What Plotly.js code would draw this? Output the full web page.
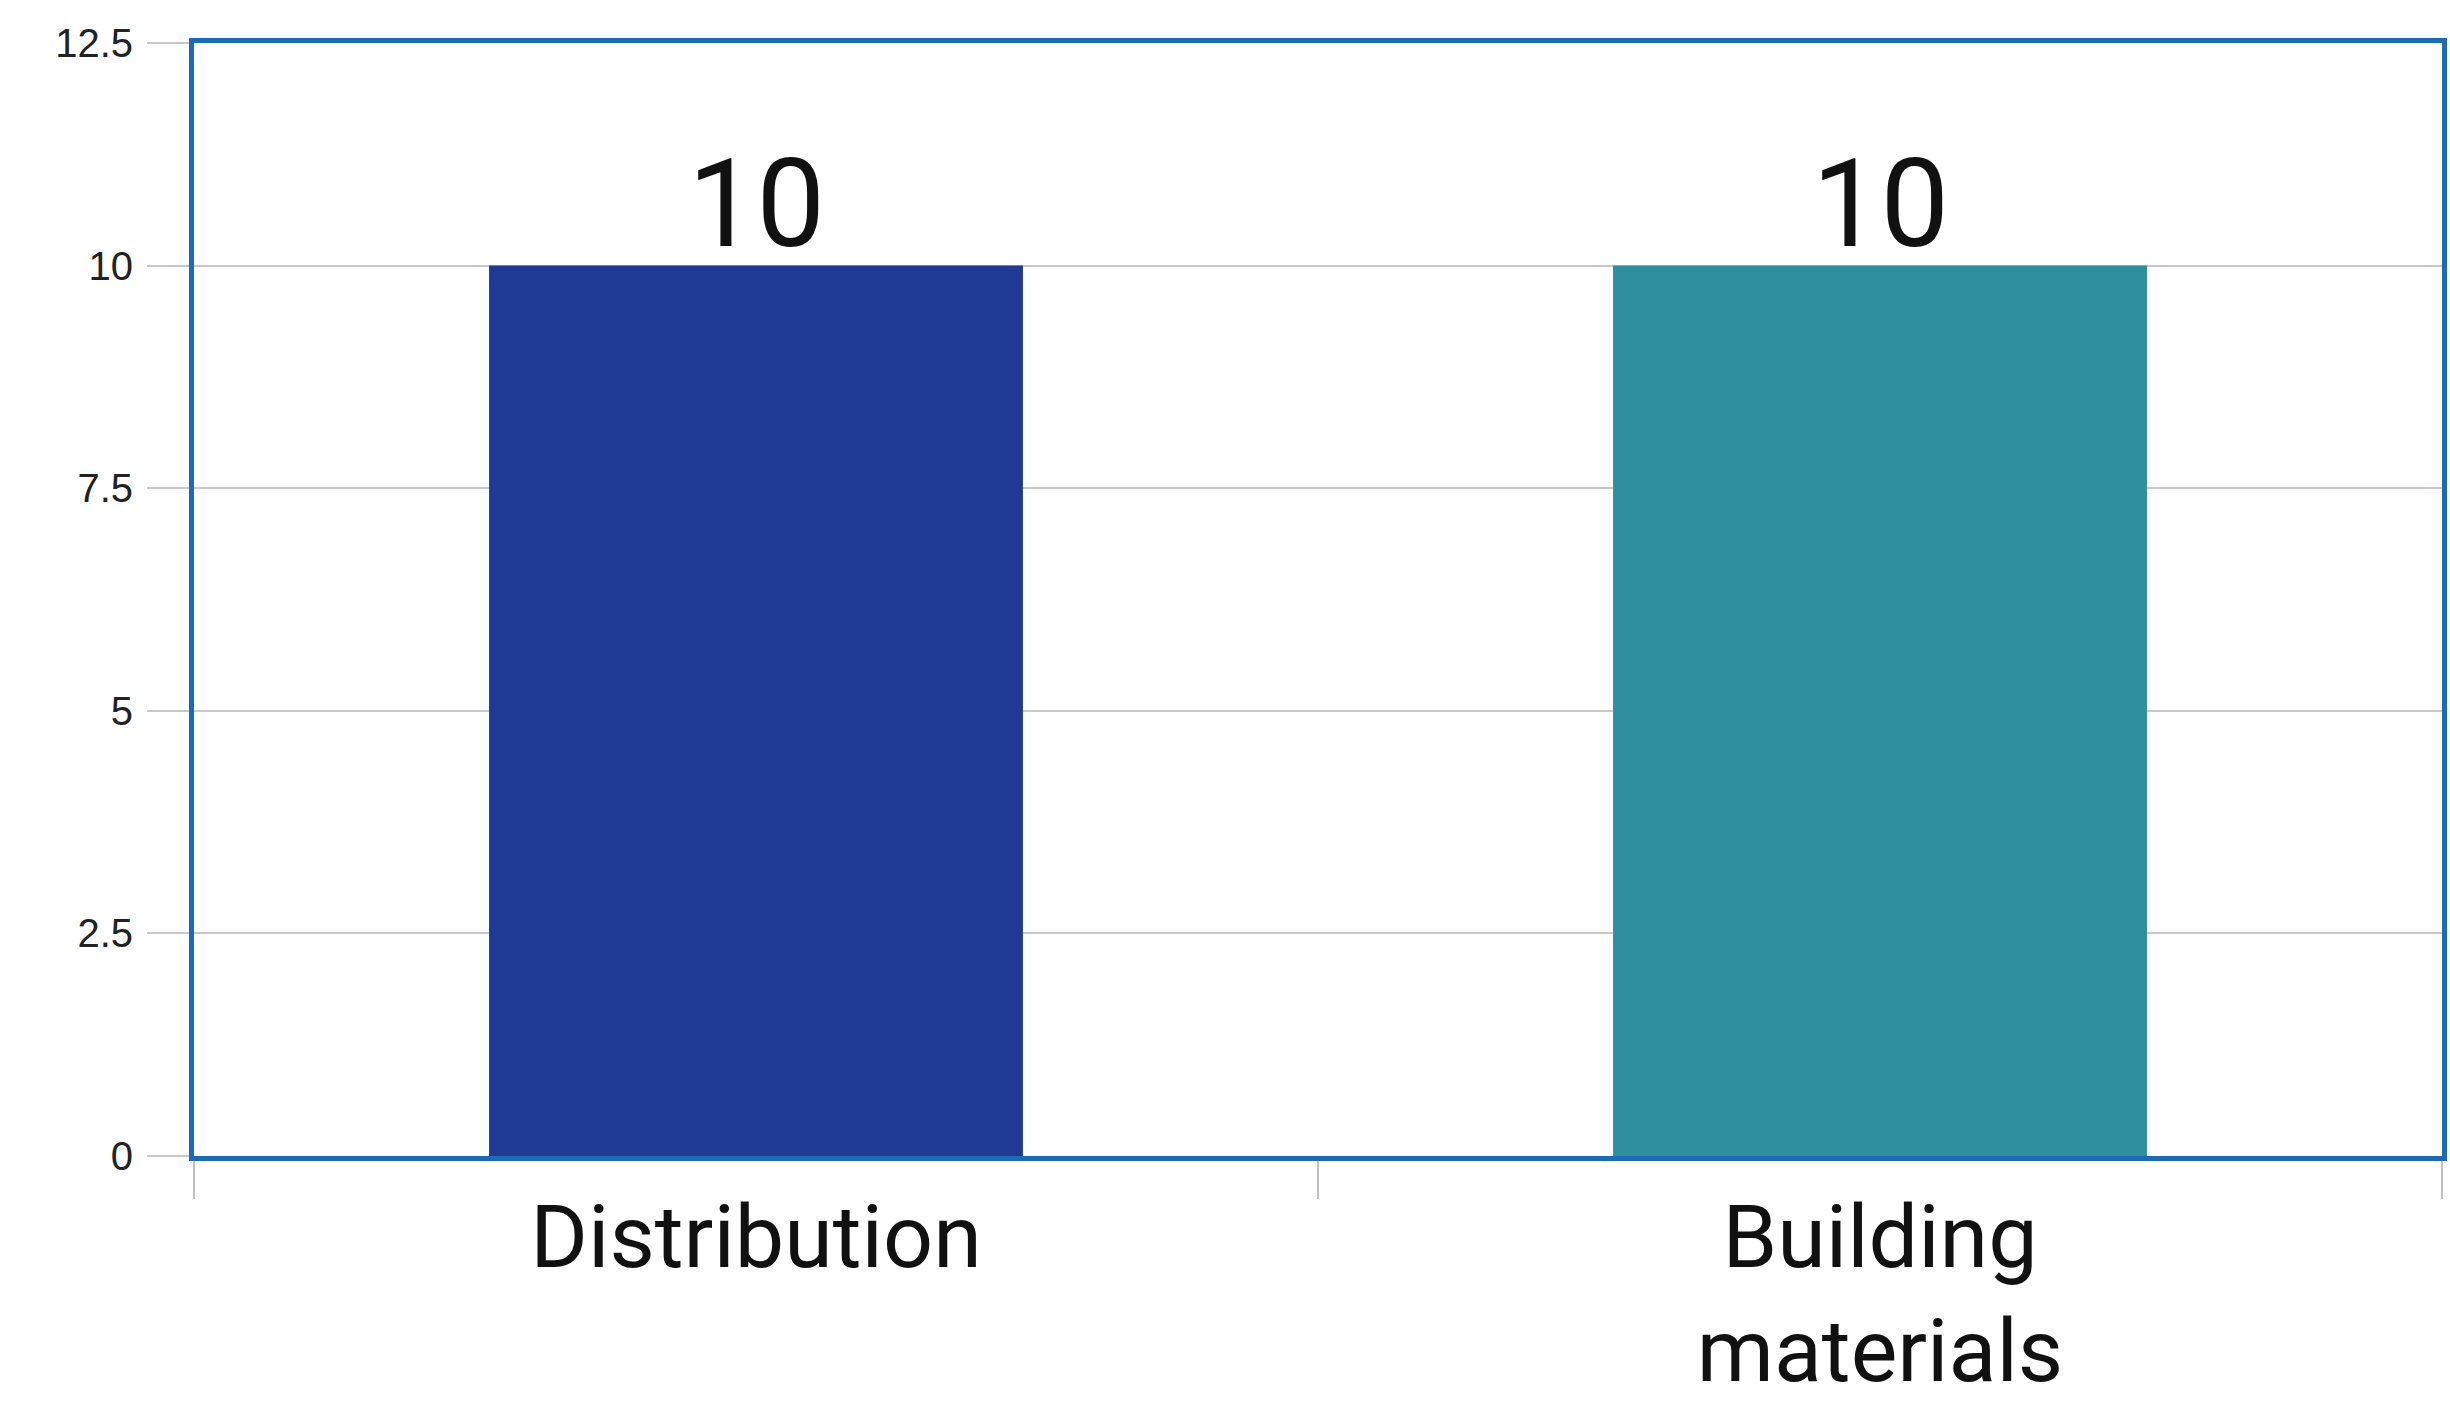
<!DOCTYPE html>
<html>
<head>
<meta charset="utf-8">
<script src="https://cdn.plot.ly/plotly-3.0.1.min.js"></script>
<style>
html,body{margin:0;padding:0;background:#ffffff;}
#chart{width:2450px;height:1403px;}
</style>
</head>
<body>
<div id="chart"></div>
<script>
const categories = ["Distribution", "Building<br>materials"];
const values = [10, 10];
const barColors = ["#1f3a92", "#2f8f9f"];
const yTickVals = [0, 2.5, 5, 7.5, 10, 12.5];
const yTickText = ["0", "2.5", "5", "7.5", "10", "12.5"];

const trace = {
  type: "bar",
  x: categories,
  y: values,
  marker: {color: barColors, line: {width: 0}},
  width: 0.475,
  hoverinfo: "none"
};

const annotations = categories.map((c, i) => ({
  x: c,
  y: values[i],
  xref: "x",
  yref: "y",
  text: String(values[i]),
  showarrow: false,
  yanchor: "bottom",
  yshift: -12,
  font: {family: "Roboto, sans-serif", size: 122, color: "#111111"}
}));

const layout = {
  width: 2450,
  height: 1403,
  margin: {l: 194, r: 8, t: 43, b: 247},
  paper_bgcolor: "#ffffff",
  plot_bgcolor: "#ffffff",
  showlegend: false,
  annotations: annotations,
  xaxis: {
    type: "category",
    showline: true,
    mirror: true,
    linecolor: "#1f6ab4",
    linewidth: 5,
    showgrid: false,
    ticks: "outside",
    tickson: "boundaries",
    ticklen: 38,
    tickwidth: 2,
    tickcolor: "#c0c0c0",
    ticklabelstandoff: 0,
    tickfont: {family: "Roboto, sans-serif", size: 88, color: "#111111"},
    automargin: false
  },
  yaxis: {
    range: [0, 12.5],
    tickvals: yTickVals,
    ticktext: yTickText,
    showline: true,
    mirror: true,
    linecolor: "#1f6ab4",
    linewidth: 5,
    showgrid: true,
    gridcolor: "#c8c8c8",
    gridwidth: 2,
    zeroline: false,
    ticks: "outside",
    ticklen: 42,
    tickwidth: 2,
    tickcolor: "#c8c8c8",
    ticklabelstandoff: 6,
    tickfont: {family: "Liberation Sans, Arial, sans-serif", size: 40, color: "#222222"},
    automargin: false
  }
};

Plotly.newPlot("chart", [trace], layout, {displayModeBar: false, staticPlot: true});
</script>
</body>
</html>
